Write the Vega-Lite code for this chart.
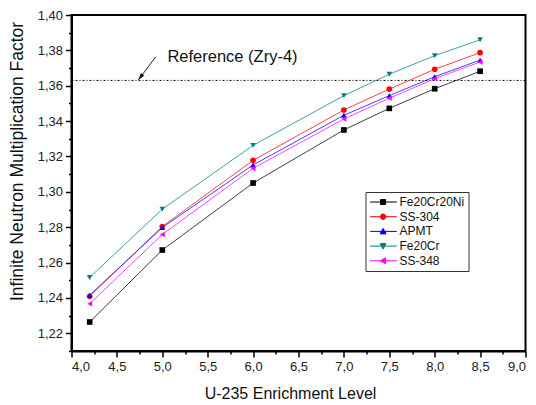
{
  "$schema": "https://vega.github.io/schema/vega-lite/v6.json",
  "width": 454,
  "height": 336,
  "autosize": "none",
  "padding": {"left": 71.5, "top": 15, "right": 10.5, "bottom": 54},
  "background": "white",
  "config": {
    "font": "Liberation Sans",
    "view": {"stroke": "black", "strokeWidth": 2},
    "axis": {"grid": false, "domainColor": "black", "domainWidth": 2, "tickColor": "black", "tickWidth": 1.5, "labelFont": "Liberation Sans", "labelColor": "#222", "labelFontSize": 13, "titleFont": "Liberation Sans", "titleFontWeight": "normal", "titleColor": "#111", "titleFontSize": 16},
    "legend": {"labelFont": "Liberation Sans"}
  },
  "datasets": {
    "kinf": [
      {"series": "Fe20Cr20Ni", "x": 4.2, "y": 1.2264},
      {"series": "Fe20Cr20Ni", "x": 5.0, "y": 1.2671},
      {"series": "Fe20Cr20Ni", "x": 6.0, "y": 1.3050},
      {"series": "Fe20Cr20Ni", "x": 7.0, "y": 1.3350},
      {"series": "Fe20Cr20Ni", "x": 7.5, "y": 1.3472},
      {"series": "Fe20Cr20Ni", "x": 8.0, "y": 1.3583},
      {"series": "Fe20Cr20Ni", "x": 8.5, "y": 1.3682},
      {"series": "SS-304", "x": 4.2, "y": 1.2409},
      {"series": "SS-304", "x": 5.0, "y": 1.2804},
      {"series": "SS-304", "x": 6.0, "y": 1.3178},
      {"series": "SS-304", "x": 7.0, "y": 1.3463},
      {"series": "SS-304", "x": 7.5, "y": 1.3581},
      {"series": "SS-304", "x": 8.0, "y": 1.3693},
      {"series": "SS-304", "x": 8.5, "y": 1.3787},
      {"series": "APMT", "x": 4.2, "y": 1.2416},
      {"series": "APMT", "x": 5.0, "y": 1.2798},
      {"series": "APMT", "x": 6.0, "y": 1.3152},
      {"series": "APMT", "x": 7.0, "y": 1.3433},
      {"series": "APMT", "x": 7.5, "y": 1.3544},
      {"series": "APMT", "x": 8.0, "y": 1.3651},
      {"series": "APMT", "x": 8.5, "y": 1.3745},
      {"series": "Fe20Cr", "x": 4.2, "y": 1.2516},
      {"series": "Fe20Cr", "x": 5.0, "y": 1.2902},
      {"series": "Fe20Cr", "x": 6.0, "y": 1.3263},
      {"series": "Fe20Cr", "x": 7.0, "y": 1.3544},
      {"series": "Fe20Cr", "x": 7.5, "y": 1.3665},
      {"series": "Fe20Cr", "x": 8.0, "y": 1.3770},
      {"series": "Fe20Cr", "x": 8.5, "y": 1.3860},
      {"series": "SS-348", "x": 4.2, "y": 1.2367},
      {"series": "SS-348", "x": 5.0, "y": 1.2759},
      {"series": "SS-348", "x": 6.0, "y": 1.3133},
      {"series": "SS-348", "x": 7.0, "y": 1.3412},
      {"series": "SS-348", "x": 7.5, "y": 1.3529},
      {"series": "SS-348", "x": 8.0, "y": 1.3640},
      {"series": "SS-348", "x": 8.5, "y": 1.3734}
    ],
    "reference": [{"label": "Reference (Zry-4)", "y": 1.363}],
    "note": [{"label": "Reference (Zry-4)", "tx": 5.056, "ty": 1.3764, "x": 4.928, "y": 1.3764, "x2": 4.737, "y2": 1.3633}]
  },
  "layer": [
    {
      "data": {"name": "reference"},
      "mark": {"type": "rule", "color": "black", "strokeWidth": 1, "strokeDash": [2, 2, 1, 2]},
      "encoding": {
        "y": {"field": "y", "type": "quantitative", "scale": {"domain": [1.21, 1.40], "nice": false, "zero": false}, "axis": null}
      }
    },
    {
      "data": {"name": "kinf"},
      "mark": {"type": "line", "strokeWidth": 1, "opacity": 0.75},
      "encoding": {
        "x": {"field": "x", "type": "quantitative", "scale": {"domain": [4, 9], "nice": false, "zero": false},
          "axis": {"title": "U-235 Enrichment Level", "orient": "bottom", "values": [4, 4.5, 5, 5.5, 6, 6.5, 7, 7.5, 8, 8.5, 9], "labelExpr": "replace(format(datum.value, '.1f'), '.', ',')", "tickSize": 6, "labelPadding": 3, "titleX": 218.5, "titleY": 42, "titleBaseline": "middle", "titleAnchor": null}},
        "y": {"field": "y", "type": "quantitative", "scale": {"domain": [1.21, 1.40], "nice": false, "zero": false},
          "axis": {"title": "Infinite Neutron Multiplication Factor", "titleFontSize": 17.5, "orient": "left", "values": [1.22, 1.24, 1.26, 1.28, 1.30, 1.32, 1.34, 1.36, 1.38, 1.40], "labelExpr": "replace(format(datum.value, '.2f'), '.', ',')", "tickSize": 6, "labelPadding": 3, "titleX": -54.5, "titleY": 146, "titleBaseline": "middle", "titleAngle": 270}},
        "color": {"field": "series", "type": "nominal",
          "scale": {"domain": ["Fe20Cr20Ni", "SS-304", "APMT", "Fe20Cr", "SS-348"], "range": ["#000000", "#ff0000", "#0000ff", "#008080", "#ff00ff"]},
          "legend": {"title": null, "orient": "none", "legendX": 294, "legendY": 177, "padding": 4, "strokeColor": "#333", "fillColor": "white", "labelFontSize": 12, "labelColor": "#111", "labelOffset": 18, "symbolSize": 100, "rowPadding": 2.7, "symbolStrokeWidth": 1, "symbolOpacity": 1,
            "symbolType": {"expr": "datum.value == 'Fe20Cr20Ni' ? 'M-1.08,0H4.26M1.02,-0.5H2.02V0.5H1.02Z' : datum.value == 'SS-304' ? 'M-1.08,0H4.26M0.97,0A0.55,0.55 0 1,0 2.07,0A0.55,0.55 0 1,0 0.97,0Z' : datum.value == 'APMT' ? 'M-1.08,0H4.26M1.52,-0.6L2.12,0.5H0.92Z' : datum.value == 'Fe20Cr' ? 'M-1.08,0H4.26M1.52,0.6L2.12,-0.5H0.92Z' : 'M-1.08,0H4.26M0.92,0L2.02,-0.6V0.6Z'"}
          }
        }
      }
    },
    {
      "data": {"name": "kinf"},
      "transform": [{"filter": "datum.series == 'Fe20Cr20Ni'"}],
      "mark": {"type": "point", "filled": true, "size": 32, "opacity": 1, "shape": "square"},
      "encoding": {
        "x": {"field": "x", "type": "quantitative", "axis": {"orient": "bottom", "values": [4.25, 4.75, 5.25, 5.75, 6.25, 6.75, 7.25, 7.75, 8.25, 8.75], "labels": false, "domain": false, "tickSize": 3, "title": null}},
        "y": {"field": "y", "type": "quantitative", "axis": {"orient": "left", "values": [1.21, 1.23, 1.25, 1.27, 1.29, 1.31, 1.33, 1.35, 1.37, 1.39], "labels": false, "domain": false, "tickSize": 3, "title": null}},
        "color": {"field": "series", "type": "nominal"}
      }
    },
    {
      "data": {"name": "kinf"},
      "transform": [{"filter": "datum.series == 'SS-304'"}],
      "mark": {"type": "point", "filled": true, "size": 32, "opacity": 1, "shape": "circle"},
      "encoding": {
        "x": {"field": "x", "type": "quantitative", "axis": null},
        "y": {"field": "y", "type": "quantitative", "axis": null},
        "color": {"field": "series", "type": "nominal"}
      }
    },
    {
      "data": {"name": "kinf"},
      "transform": [{"filter": "datum.series == 'APMT'"}],
      "mark": {"type": "point", "filled": true, "size": 32, "opacity": 1, "shape": "triangle-up"},
      "encoding": {
        "x": {"field": "x", "type": "quantitative", "axis": null},
        "y": {"field": "y", "type": "quantitative", "axis": null},
        "color": {"field": "series", "type": "nominal"}
      }
    },
    {
      "data": {"name": "kinf"},
      "transform": [{"filter": "datum.series == 'Fe20Cr'"}],
      "mark": {"type": "point", "filled": true, "size": 32, "opacity": 1, "shape": "triangle-down"},
      "encoding": {
        "x": {"field": "x", "type": "quantitative", "axis": null},
        "y": {"field": "y", "type": "quantitative", "axis": null},
        "color": {"field": "series", "type": "nominal"}
      }
    },
    {
      "data": {"name": "kinf"},
      "transform": [{"filter": "datum.series == 'SS-348'"}],
      "mark": {"type": "point", "filled": true, "size": 32, "opacity": 1, "shape": "triangle-left"},
      "encoding": {
        "x": {"field": "x", "type": "quantitative", "axis": null},
        "y": {"field": "y", "type": "quantitative", "axis": null},
        "color": {"field": "series", "type": "nominal"}
      }
    },
    {
      "data": {"name": "note"},
      "mark": {"type": "rule", "color": "#222", "strokeWidth": 1},
      "encoding": {
        "x": {"field": "x", "type": "quantitative", "axis": null},
        "y": {"field": "y", "type": "quantitative", "axis": null},
        "x2": {"field": "x2"},
        "y2": {"field": "y2"}
      }
    },
    {
      "data": {"name": "note"},
      "mark": {"type": "point", "shape": "M0,0L5.95,-4.29L2.43,-6.93Z", "size": 4, "filled": true, "color": "#111", "opacity": 1},
      "encoding": {
        "x": {"field": "x2", "type": "quantitative", "axis": null},
        "y": {"field": "y2", "type": "quantitative", "axis": null}
      }
    },
    {
      "data": {"name": "note"},
      "mark": {"type": "text", "align": "left", "baseline": "middle", "fontSize": 16.5, "color": "#111", "font": "Liberation Sans"},
      "encoding": {
        "x": {"field": "tx", "type": "quantitative", "axis": null},
        "y": {"field": "ty", "type": "quantitative", "axis": null},
        "text": {"field": "label"}
      }
    }
  ],
  "resolve": {"axis": {"x": "independent", "y": "independent"}}
}
